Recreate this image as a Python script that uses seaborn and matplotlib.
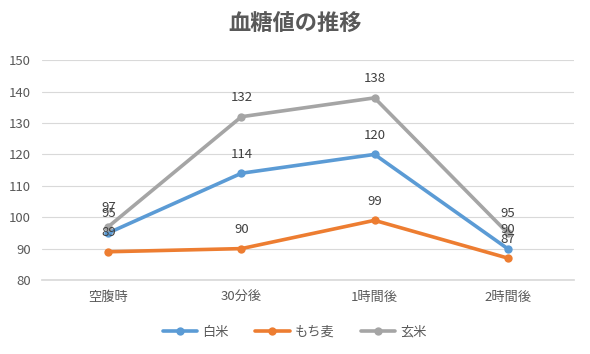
import matplotlib
matplotlib.use('Agg')
import matplotlib.pyplot as plt
import seaborn as sns
import pandas as pd

categories = ['空腹時', '30分後', '1時間後', '2時間後']
hakumai = [95, 114, 120, 90]
mochimugi = [89, 90, 99, 87]
genmai = [97, 132, 138, 95]
series_names = ['白米', 'もち麦', '玄米']
colors = ['#5B9BD5', '#ED7D31', '#A5A5A5']

sns.set_theme(style='white')
plt.rcParams['font.family'] = ['Noto Sans CJK JP', 'DejaVu Sans']
text_color = '#595959'

rows = []
for name, vals in zip(series_names, [hakumai, mochimugi, genmai]):
    for i, (cat, v) in enumerate(zip(categories, vals)):
        rows.append({'pos': i, 'cat': cat, 'value': v, 'series': name})
df = pd.DataFrame(rows)

fig = plt.figure(figsize=(5.9, 3.54), dpi=100)
ax = fig.add_axes([0.071, 0.209, 0.902, 0.621])

sns.lineplot(data=df, x='pos', y='value', hue='series', hue_order=series_names,
             palette=colors, marker='o', markersize=6, markeredgewidth=0,
             linewidth=2.6, ax=ax, legend=False, zorder=3)

# data labels above each point
for name, vals, c in zip(series_names, [hakumai, mochimugi, genmai], colors):
    for i, v in enumerate(vals):
        ax.annotate(str(v), (i, v), xytext=(0, 9), textcoords='offset points',
                    ha='center', va='bottom', fontsize=9.5, color='#404040')

ax.set_xlim(-0.5, 3.5)
ax.set_ylim(80, 150)
ax.set_yticks(range(80, 151, 10))
ax.set_xticks(range(4))
ax.set_xticklabels(categories)
ax.set_xlabel('')
ax.set_ylabel('')
ax.yaxis.grid(True, color='#D9D9D9', linewidth=0.8)
ax.set_axisbelow(True)
for s in ['top', 'right', 'left']:
    ax.spines[s].set_visible(False)
ax.spines['bottom'].set_color('#D9D9D9')
ax.tick_params(axis='both', length=0, labelsize=9.5, colors=text_color, pad=8)

fig.suptitle('血糖値の推移', x=0.5, y=0.965, fontsize=16, fontweight='bold',
             color=text_color)

handles = [plt.Line2D([], [], color=c, marker='o', markersize=6, linewidth=2.6,
                      markeredgewidth=0) for c in colors]
fig.legend(handles, series_names, loc='center', bbox_to_anchor=(0.5, 0.062),
           ncol=3, frameon=False, fontsize=9.5, labelcolor=text_color,
           handlelength=2.6, columnspacing=2.0, handletextpad=0.4)

fig.savefig('out.png', dpi=100)
